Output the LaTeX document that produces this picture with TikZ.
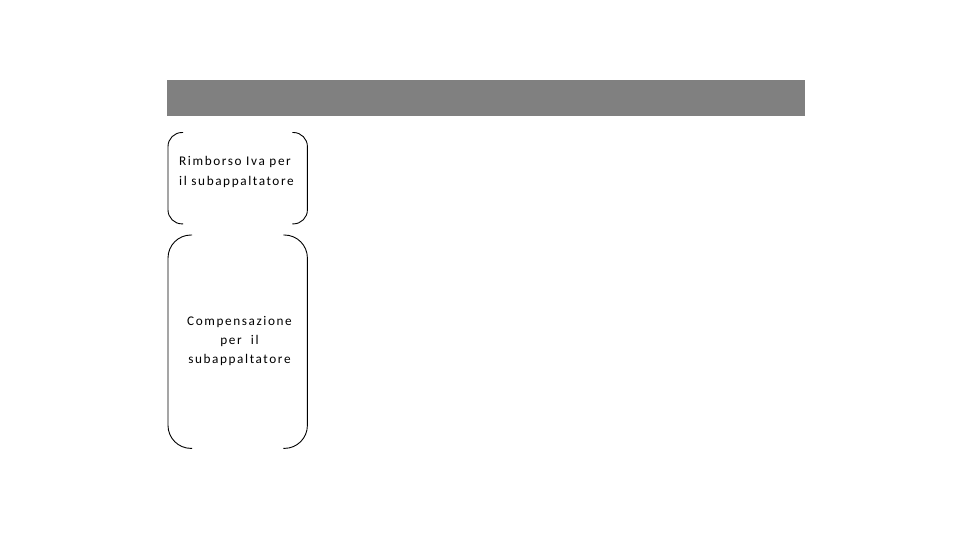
\documentclass[tikz,border=0pt]{standalone}
\usepackage{fontspec}
\setmainfont{Carlito}
\newfontfamily\spaced[LetterSpace=12]{Carlito}
\begin{document}
\begin{tikzpicture}[x=1bp,y=-1bp,
  bar/.style={fill=black!50,draw=none},
  brk/.style={draw=black,line width=0.9bp},
  lbl/.style={font=\spaced\fontsize{13.3}{19.5}\selectfont,text=black,inner sep=0pt}]
\useasboundingbox (0,0) rectangle (960,540);
\node[bar,minimum width=638bp,minimum height=36bp,inner sep=0pt,anchor=north west] (bar) at (167,80) {};
\node[minimum width=139bp,minimum height=91bp,inner sep=0pt,anchor=north west] (b1) at (168,132.5) {};
\node[minimum width=139bp,minimum height=213bp,inner sep=0pt,anchor=north west] (b2) at (168,235) {};
% brackets box 1
\draw[brk,rounded corners=14bp] ([xshift=15bp]b1.north west) -- (b1.north west) -- (b1.south west) -- ([xshift=15bp]b1.south west);
\draw[brk,rounded corners=14bp] ([xshift=-15bp]b1.north east) -- (b1.north east) -- (b1.south east) -- ([xshift=-15bp]b1.south east);
% brackets box 2
\draw[brk,rounded corners=23bp] ([xshift=24bp]b2.north west) -- (b2.north west) -- (b2.south west) -- ([xshift=24bp]b2.south west);
\draw[brk,rounded corners=23bp] ([xshift=-24bp]b2.north east) -- (b2.north east) -- (b2.south east) -- ([xshift=-24bp]b2.south east);
\node[lbl,align=left,anchor=west] (t1) at (179,172) {Rimborso Iva per\\il subappaltatore};
\node[lbl,align=center] (t2) at (239.5,341) {Compensazione\\per\ \ il\\subappaltatore};
\end{tikzpicture}
\end{document}
